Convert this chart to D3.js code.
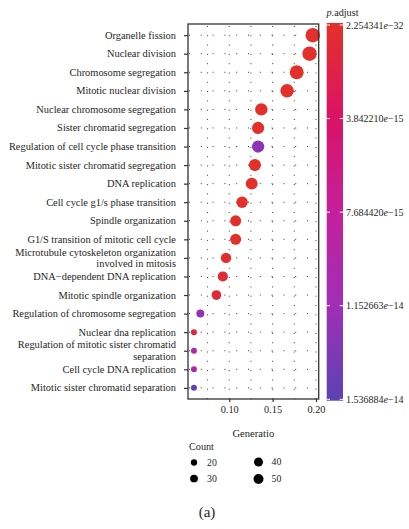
<!DOCTYPE html>
<html><head><meta charset="utf-8">
<script src="https://cdn.jsdelivr.net/npm/d3@7"></script>
<style>
html,body{margin:0;padding:0;background:#fff;}
svg text{font-family:"Liberation Serif","Times New Roman",serif;fill:#262626;}
</style></head>
<body><svg id="chart" width="409" height="529"></svg>
<script>
// ---- data ----
const terms = [
  "Organelle fission","Nuclear division","Chromosome segregation","Mitotic nuclear division",
  "Nuclear chromosome segregation","Sister chromatid segregation","Regulation of cell cycle phase transition",
  "Mitotic sister chromatid segregation","DNA replication","Cell cycle g1/s phase transition",
  "Spindle organization","G1/S transition of mitotic cell cycle",
  "Microtubule cytoskeleton organization\ninvolved in mitosis","DNA\u2212dependent DNA replication",
  "Mitotic spindle organization","Regulation of chromosome segregation","Nuclear dna replication",
  "Regulation of mitotic sister chromatid\nseparation","Cell cycle DNA replication",
  "Mitotic sister chromatid separation"
];
const geneRatio = [0.1963,0.1926,0.1778,0.1667,0.1370,0.1333,0.1333,0.1296,0.1259,0.1148,
                   0.1074,0.1074,0.0963,0.0926,0.0852,0.0667,0.0593,0.0593,0.0593,0.0593];
const counts = [53,52,48,45,37,36,36,35,34,31,29,29,26,25,23,18,16,16,16,16];
const pAdjust = [2.254341e-32,5.1e-31,3.2e-28,4.5e-27,1.2e-22,3.5e-22,1.27e-14,8.9e-22,2.3e-21,6.0e-19,
                 2.1e-17,4.0e-17,3.1e-16,6.5e-16,1.1e-15,1.22e-14,1.4e-15,1.0e-14,1.01e-14,1.536884e-14];
const xTicks = [0.10,0.15,0.20];
const colorBreaks = [2.254341e-32,3.842210e-15,7.684420e-15,1.152663e-14,1.536884e-14];
const colorLabels = ["2.254341","3.842210","7.684420","1.152663","1.536884"];
const colorExps = ["\u221232","\u221215","\u221215","\u221214","\u221214"];
const legendCounts = [20,30,40,50];
const gradientColors = ["#E3302A","#DA1266","#C4209C","#A02EB6","#5E42B2"];

// ---- layout ----
const svg = d3.select("#chart");
const P = {left:188, right:318.7, top:24, bottom:399};
const FONT = "'Liberation Serif','Times New Roman',serif";

const rMin = d3.min(geneRatio), rMax = d3.max(geneRatio), ex = (rMax-rMin)*0.05;
const x = d3.scaleLinear().domain([rMin-ex, rMax+ex]).range([P.left, P.right]);
const step = (P.bottom-P.top)/(terms.length-1+1.2);
const y = d3.scalePoint().domain(terms).range([P.top+0.6*step, P.bottom-0.6*step]);

const cMin = d3.min(counts), cMax = d3.max(counts);
const size = v => 3 + 4.25*Math.sqrt((v-cMin)/(cMax-cMin)); // radius
const legendSize = d3.scaleSqrt().domain([0,50]).range([0,5]);

const pMax = d3.max(pAdjust), pMin = d3.min(pAdjust);
const color = d3.scaleLinear()
  .domain(gradientColors.map((c,i)=>pMin+(pMax-pMin)*i/(gradientColors.length-1)))
  .range(gradientColors).interpolate(d3.interpolateRgb);

// grid: dotted
const grid = svg.append("g");
[0.075,0.10,0.125,0.15,0.175,0.20].forEach(v=>{
  grid.append("line").attr("x1",x(v)).attr("x2",x(v)).attr("y1",P.top+2).attr("y2",P.bottom)
    .attr("stroke","#222").attr("stroke-width",0.9).attr("stroke-dasharray","1 8.3");
});
terms.forEach(t=>{
  grid.append("line").attr("x1",P.left+1).attr("x2",P.right).attr("y1",y(t)).attr("y2",y(t))
    .attr("stroke","#222").attr("stroke-width",0.9).attr("stroke-dasharray","1 10.8");
});

// points
const order = d3.range(terms.length).sort((a,b)=>counts[a]-counts[b]);
svg.append("g").selectAll("circle").data(order).join("circle")
  .attr("cx",i=>x(geneRatio[i])).attr("cy",i=>y(terms[i]))
  .attr("r",i=>size(counts[i])).attr("fill",i=>color(pAdjust[i]));

// panel border
svg.append("rect").attr("x",P.left).attr("y",P.top).attr("width",P.right-P.left).attr("height",P.bottom-P.top)
  .attr("fill","none").attr("stroke","#333").attr("stroke-width",1.3);

// x axis
const xAxis = svg.append("g").attr("transform",`translate(0,${P.bottom})`)
  .call(d3.axisBottom(x).tickValues(xTicks).tickFormat(d3.format(".2f")).tickSize(3).tickPadding(4));
xAxis.attr("font-family",FONT);
xAxis.select(".domain").remove();
xAxis.selectAll("line").attr("stroke","#333").attr("stroke-width",1.2);
xAxis.selectAll("text").attr("font-size","10.3px").attr("fill","#262626");

// y axis
const yAxis = svg.append("g").attr("transform",`translate(${P.left},0)`)
  .call(d3.axisLeft(y).tickSize(4).tickFormat(""));
yAxis.select(".domain").remove();
yAxis.selectAll("line").attr("stroke","#333").attr("stroke-width",1.2);
terms.forEach(t=>{
  const lines = t.split("\n");
  const lh = 11.5;
  const tx = svg.append("text").attr("x",176).attr("text-anchor","end")
    .attr("font-family",FONT).attr("font-size","10.4px");
  lines.forEach((ln,k)=>{
    tx.append("tspan").attr("x",176)
      .attr("y",y(t)+3.5+(k-(lines.length-1)/2)*lh).text(ln);
  });
});

// x title
svg.append("text").attr("x",(P.left+P.right)/2).attr("y",436.5).attr("text-anchor","middle")
  .attr("font-family",FONT).attr("font-size","10.6px").text("Generatio");

// colorbar
const cb = {x:326.7, w:16.3, top:23, bottom:400.7};
const cbY = d3.scaleLinear().domain([pMin,pMax]).range([25,399.3]);
const defs = svg.append("defs");
const grad = defs.append("linearGradient").attr("id","cbgrad").attr("x1",0).attr("x2",0).attr("y1",0).attr("y2",1);
gradientColors.forEach((c,i)=>grad.append("stop").attr("offset",((cbY(pMin+(pMax-pMin)*i/(gradientColors.length-1))-cb.top)/(cb.bottom-cb.top))).attr("stop-color",c));
svg.append("rect").attr("x",cb.x).attr("y",cb.top).attr("width",cb.w).attr("height",cb.bottom-cb.top)
  .attr("fill","url(#cbgrad)");
colorBreaks.forEach((b,i)=>{
  const yy = cbY(b);
  svg.append("line").attr("x1",cb.x).attr("x2",cb.x+3.3).attr("y1",yy).attr("y2",yy).attr("stroke","#fff").attr("stroke-width",1);
  svg.append("line").attr("x1",cb.x+cb.w-3.3).attr("x2",cb.x+cb.w).attr("y1",yy).attr("y2",yy).attr("stroke","#fff").attr("stroke-width",1);
  const t = svg.append("text").attr("x",346).attr("y",yy+3.5).attr("font-family",FONT).attr("font-size","10px");
  t.append("tspan").text(colorLabels[i]);
  t.append("tspan").attr("font-style","italic").text("e");
  t.append("tspan").text(colorExps[i]);
});
const ttl = svg.append("text").attr("x",326.5).attr("y",16).attr("font-family",FONT).attr("font-size","10.2px");
ttl.append("tspan").attr("font-style","italic").text("p");
ttl.append("tspan").text(".adjust");

// size legend
svg.append("text").attr("x",189).attr("y",450).attr("font-family",FONT).attr("font-size","10.2px").text("Count");
const legPos = [[194,462.5],[194,478.5],[258.5,462],[258.5,479]];
legendCounts.forEach((c,i)=>{
  svg.append("circle").attr("cx",legPos[i][0]).attr("cy",legPos[i][1]).attr("r",legendSize(c)).attr("fill","#000");
  svg.append("text").attr("x",legPos[i][0]+13).attr("y",legPos[i][1]+3).attr("font-family",FONT).attr("font-size","9.8px").text(c);
});

// panel label
svg.append("text").attr("x",207).attr("y",517).attr("text-anchor","middle").attr("font-family",FONT).attr("font-size","15px").text("(a)");
</script></body></html>
